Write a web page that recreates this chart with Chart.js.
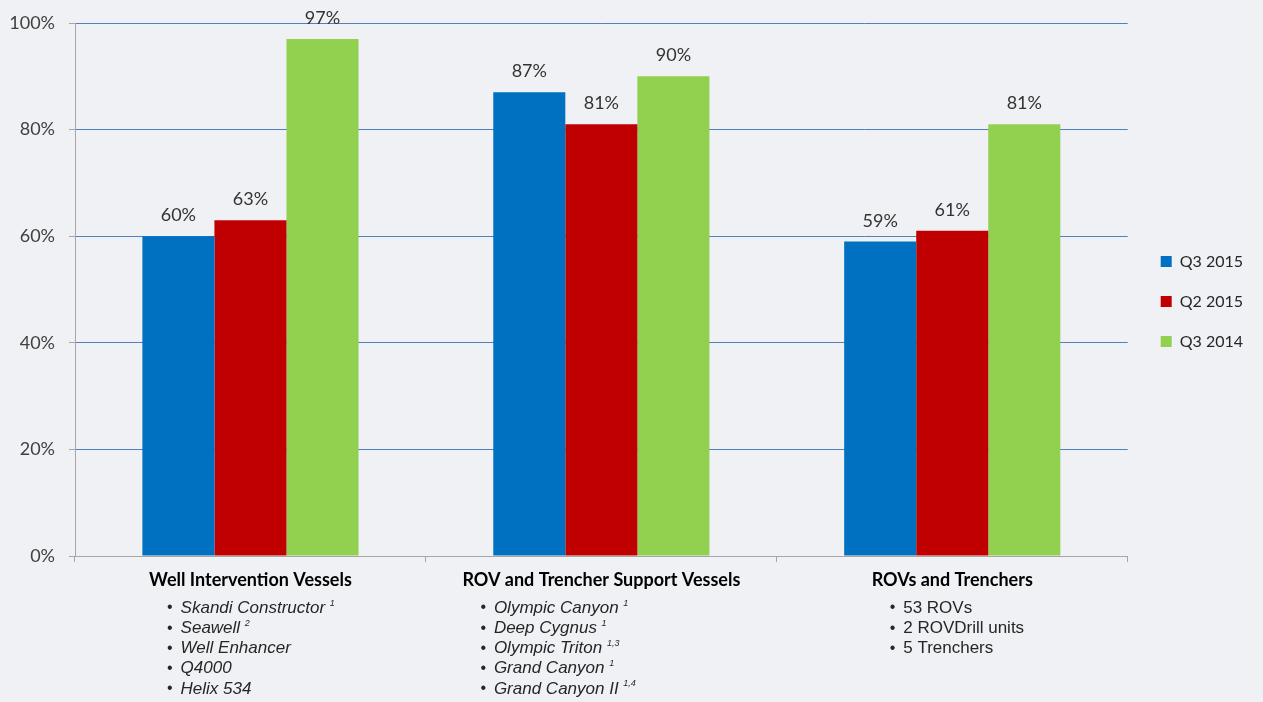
<!DOCTYPE html>
<html>
<head>
<meta charset="utf-8">
<script src="https://cdn.jsdelivr.net/npm/chart.js"></script>
<style>
html, body { margin:0; padding:0; background:#eff1f4; }
#wrap { width:1263px; height:702px; position:relative; }
</style>
</head>
<body>
<div id="wrap"><canvas id="grafico"></canvas></div>
<script>
// dati
const categorie = ["Well Intervention Vessels", "ROV and Trencher Support Vessels", "ROVs and Trenchers"];
const serie = ["Q3 2015", "Q2 2015", "Q3 2014"];
const q3_2015 = [60, 87, 59];
const q2_2015 = [63, 81, 61];
const q3_2014 = [97, 90, 81];
const colori = ["#0070c0", "#c00000", "#92d050"];
const yTicks = [0, 20, 40, 60, 80, 100];

// elenchi sotto le categorie: [testo, apice]
const elenchi = [
    [["Skandi Constructor", "1"], ["Seawell", "2"], ["Well Enhancer", ""], ["Q4000", ""], ["Helix 534", ""]],
    [["Olympic Canyon", "1"], ["Deep Cygnus", "1"], ["Olympic Triton", "1,3"], ["Grand Canyon", "1"], ["Grand Canyon II", "1,4"]],
    [["53 ROVs", ""], ["2 ROVDrill units", ""], ["5 Trenchers", ""]]
];
const corsivo = [true, true, false];

const fontTitolo = "bold 18px Lato";

// etichette sopra le barre
const etichette = {
    id: "etichette",
    afterDatasetsDraw(chart) {
        let ctx = chart.ctx;
        ctx.save();
        ctx.font = "18px Lato";
        ctx.fillStyle = "#333333";
        ctx.textAlign = "center";
        ctx.textBaseline = "alphabetic";
        chart.data.datasets.forEach((ds, i) => {
            let meta = chart.getDatasetMeta(i);
            meta.data.forEach((bar, j) => {
                ctx.fillText(ds.data[j] + "%", bar.x, bar.y - 15);
            });
        });
        ctx.restore();
    }
};

// elenchi puntati sotto l'asse x
const elenchiPuntati = {
    id: "elenchiPuntati",
    afterDraw(chart) {
        let ctx = chart.ctx;
        let x = chart.scales.x;
        let base = chart.chartArea.bottom;
        ctx.save();
        ctx.fillStyle = "#262626";
        ctx.textBaseline = "middle";
        ctx.textAlign = "left";
        for (let i = 0; i < categorie.length; i++) {
            ctx.font = fontTitolo;
            let w = ctx.measureText(categorie[i]).width;
            let sx = x.getPixelForValue(i) - w / 2 + 18;
            for (let j = 0; j < elenchi[i].length; j++) {
                let y = base + 52 + j * 20.2;
                let stile = corsivo[i] ? "italic " : "";
                ctx.font = "16px 'Liberation Sans'";
                ctx.fillText("\u2022", sx, y);
                ctx.font = stile + "17px 'Liberation Sans'";
                ctx.fillText(elenchi[i][j][0], sx + 13.5, y);
                if (elenchi[i][j][1]) {
                    let tw = ctx.measureText(elenchi[i][j][0] + " ").width;
                    ctx.font = stile + "9px 'Liberation Sans'";
                    ctx.fillText(elenchi[i][j][1], sx + 13.5 + tw, y - 5);
                }
            }
        }
        ctx.restore();
    }
};

// sposta la legenda un po' a destra e in basso
const spostaLegenda = {
    id: "spostaLegenda",
    afterLayout(chart) {
        let lg = chart.legend;
        lg.left += 9;
        lg.right += 9;
        lg.top += 12;
        lg.bottom += 12;
    }
};

window.onload = () => {
    let canvas = document.getElementById("grafico");
    new Chart(canvas, {
        type: "bar",
        data: {
            labels: categorie,
            datasets: [
                { label: serie[0], data: q3_2015, backgroundColor: colori[0] },
                { label: serie[1], data: q2_2015, backgroundColor: colori[1] },
                { label: serie[2], data: q3_2014, backgroundColor: colori[2] }
            ]
        },
        options: {
            responsive: true,
            maintainAspectRatio: false,
            animation: false,
            layout: { padding: { top: 16, right: 19, bottom: 0, left: 0 } },
            datasets: { bar: { categoryPercentage: 0.616, barPercentage: 1 } },
            plugins: {
                legend: {
                    position: "right",
                    fullSize: false,
                    labels: {
                        boxWidth: 11,
                        boxHeight: 11,
                        padding: 24,
                        color: "#262626",
                        font: { family: "Lato", size: 16 }
                    }
                },
                tooltip: { enabled: false }
            },
            scales: {
                x: {
                    afterFit: (s) => { s.height = 146; },
                    grid: {
                        drawOnChartArea: false,
                        drawTicks: true,
                        tickLength: 6,
                        color: "#a6a6a6",
                        tickColor: "#a6a6a6"
                    },
                    border: { color: "#a6a6a6" },
                    ticks: {
                        color: "#000000",
                        padding: 7,
                        font: { family: "Lato", size: 18, weight: "bold" }
                    }
                },
                y: {
                    min: 0,
                    max: 100,
                    afterFit: (s) => { s.width = 75; },
                    afterBuildTicks: (s) => { s.ticks = yTicks.map(v => ({ value: v })); },
                    grid: {
                        color: (c) => c.tick && c.tick.value === 0 ? "#a6a6a6" : "#4f81bd",
                        tickColor: "#a6a6a6",
                        tickLength: 6
                    },
                    border: { color: "#a6a6a6" },
                    ticks: {
                        color: "#404040",
                        padding: 14,
                        font: { family: "Lato", size: 18, lineHeight: 1 },
                        callback: (v) => v + "%"
                    }
                }
            }
        },
        plugins: [etichette, elenchiPuntati, spostaLegenda]
    });
};
</script>
</body>
</html>
